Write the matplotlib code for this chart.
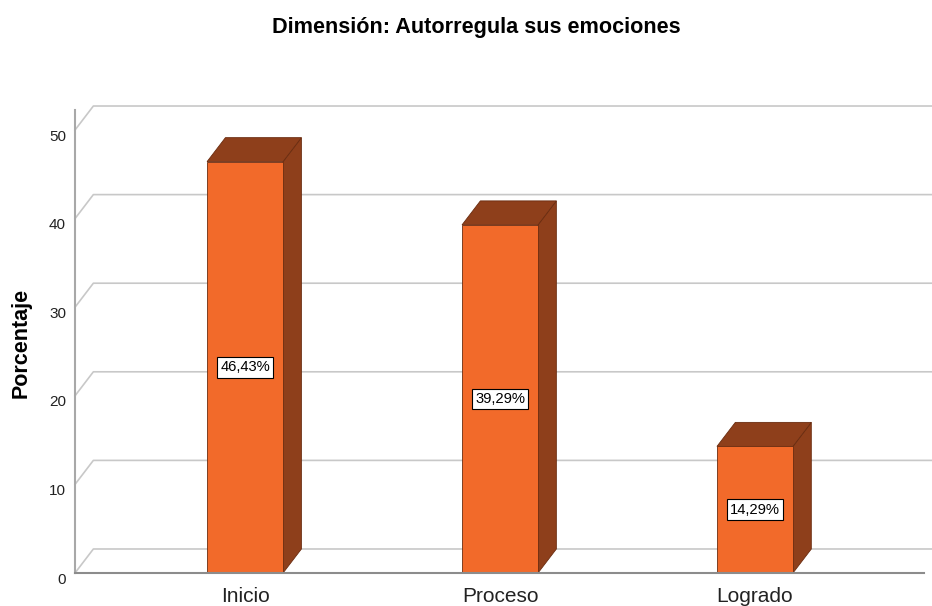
import matplotlib

matplotlib.use("Agg")  # headless backend
import matplotlib.pyplot as plt
from matplotlib.patches import Polygon, Rectangle
from matplotlib.transforms import ScaledTranslation

plt.rcParams["font.family"] = ["Liberation Sans", "DejaVu Sans"]

categories = ["Inicio", "Proceso", "Logrado"]
percentages = [46.43, 39.29, 14.29]
value_labels = ["46,43%", "39,29%", "14,29%"]
y_ticks = [0, 10, 20, 30, 40, 50]

FRONT = "#F26A2A"
SHADE = "#8E3F1B"
EDGE = "#6A2C10"
GRID = "#C8C8C8"

W, H = 932, 606
BW = 0.298          # bar width (category units)
DX, DY = 0.072, 2.71  # 3D depth offset in data units

fig = plt.figure(figsize=(W / 100, H / 100), dpi=100)
# axes = the front plane of the pseudo-3D box
ax = fig.add_axes([75 / W, (H - 573) / H, (924 - 75) / W, (573 - 110) / H])
ax.set_xlim(-0.667, 2.663)
ax.set_ylim(0, 52.26)
x_lo, x_hi = ax.get_xlim()

# back wall grid lines with their diagonal from the front axis
for v in y_ticks:
    ax.plot([x_lo, x_lo + DX, x_hi + 0.03], [v, v + DY, v + DY],
            color=GRID, lw=1.2, clip_on=False, zorder=1)

for i, (v, lab) in enumerate(zip(percentages, value_labels)):
    x0, x1 = i - BW / 2, i + BW / 2
    ax.add_patch(Polygon([(x1, 0), (x1 + DX, DY), (x1 + DX, v + DY), (x1, v)],
                         closed=True, fc=SHADE, ec=EDGE, lw=0.6, zorder=3))
    ax.add_patch(Polygon([(x0, v), (x0 + DX, v + DY), (x1 + DX, v + DY), (x1, v)],
                         closed=True, fc=SHADE, ec=EDGE, lw=0.6, zorder=3))
    ax.add_patch(Rectangle((x0, 0), BW, v, fc=FRONT, ec=EDGE, lw=0.6, zorder=4))
    ax.text(i, v / 2, lab, ha="center", va="center", fontsize=10.6, zorder=5,
            bbox=dict(boxstyle="square,pad=0.22", fc="white", ec="black", lw=0.8))

for side in ("top", "right"):
    ax.spines[side].set_visible(False)
ax.spines["left"].set_color("#A8A8A8")
ax.spines["left"].set_linewidth(1.5)
ax.spines["bottom"].set_color("#8C8C8C")
ax.spines["bottom"].set_linewidth(1.5)
ax.spines["left"].set_zorder(6)
ax.spines["bottom"].set_zorder(6)
ax.patch.set_visible(False)

ax.set_yticks(y_ticks)
ax.set_yticklabels([str(t) for t in y_ticks])
ax.set_xticks(range(len(categories)))
ax.set_xticklabels(categories)
ax.tick_params(axis="y", length=0, pad=6.5, labelsize=11, labelcolor="#222222")
ax.tick_params(axis="x", length=0, pad=10, labelsize=15, labelcolor="#222222")
shift = ScaledTranslation(0, -5 / 100, fig.dpi_scale_trans)
for t in ax.get_yticklabels():
    t.set_transform(t.get_transform() + shift)

fig.text(476.5 / W, 1 - 28 / H, "Dimensión: Autorregula sus emociones",
         ha="center", va="center", fontsize=15.6, fontweight="bold")
fig.text(21 / W, 1 - 343 / H, "Porcentaje", rotation=90,
         ha="center", va="center", fontsize=15.5, fontweight="bold")

fig.savefig("out.png", dpi=100)
